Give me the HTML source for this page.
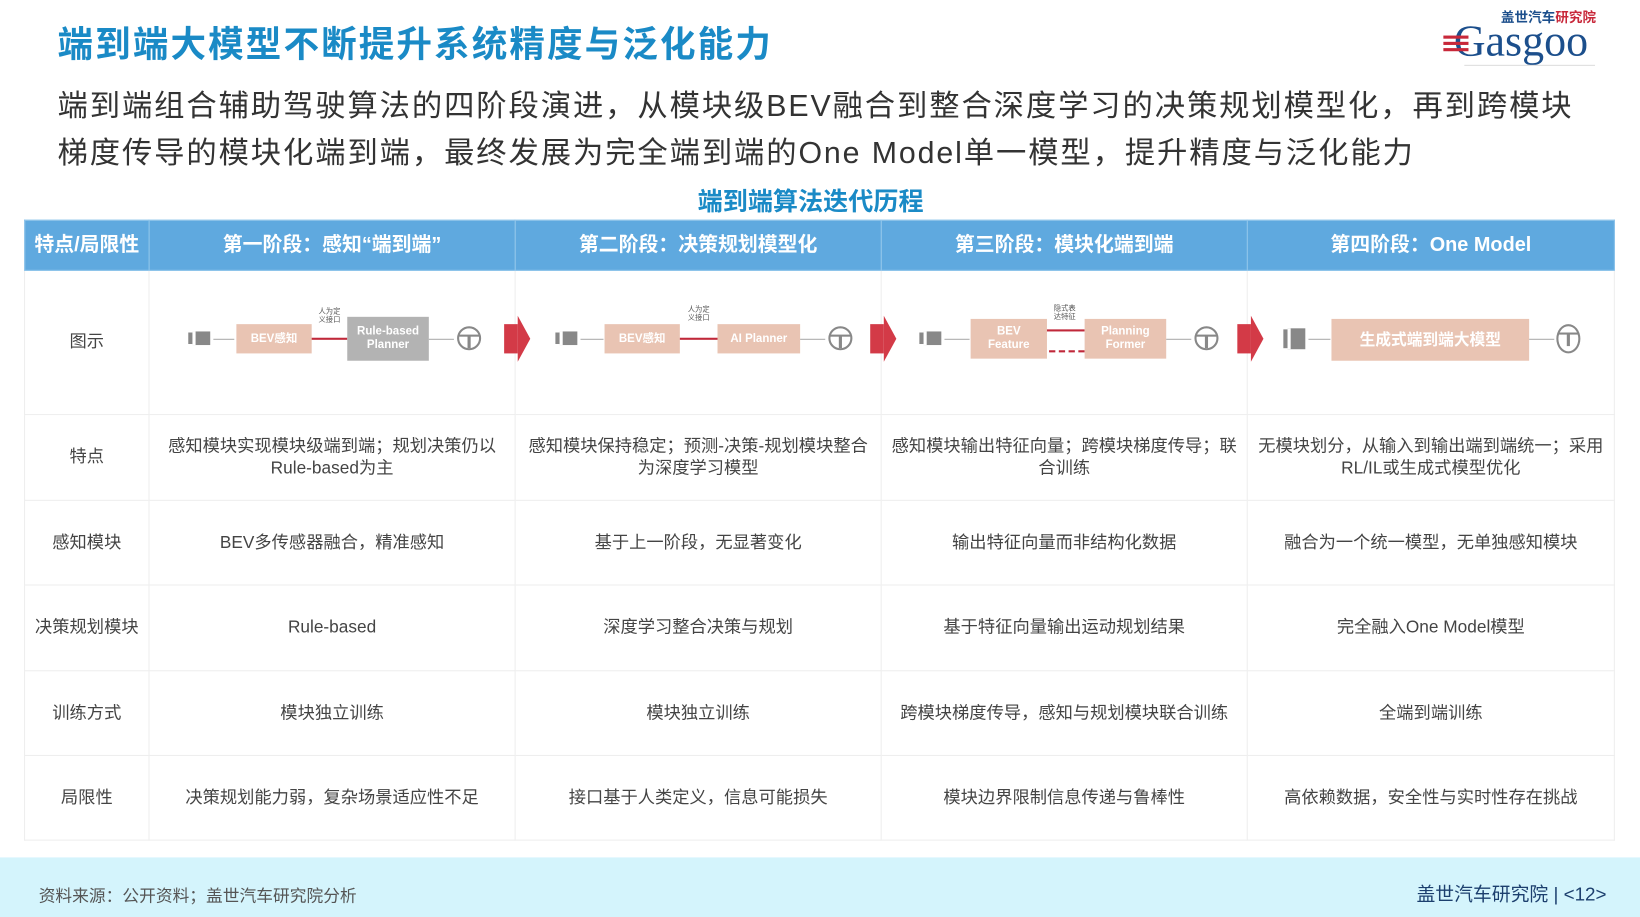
<!DOCTYPE html>
<html><head><meta charset="utf-8"><style>
html,body{margin:0;padding:0;width:1640px;height:917px;overflow:hidden;background:#fff}
#s{position:absolute;left:0;top:0;width:1568px;height:877px;transform:scale(1.04592,1.04561);transform-origin:0 0;font-family:"Liberation Sans","Noto Sans CJK SC",sans-serif}
.a{position:absolute}
table{position:absolute;left:23px;top:210px;width:1520px;border-collapse:collapse;table-layout:fixed}
td,th{border:1px solid #eeeeee;text-align:center;color:#444;font-size:16.5px;font-weight:normal;line-height:21px;padding:0 6px}
th{background:#5fa9df;color:#fff;font-weight:bold;font-size:19px;height:47px;border-color:#8cc3ea}
.bx{position:absolute;background:#e9c4b3;color:#fff;font-size:11px;display:flex;align-items:center;justify-content:center;text-align:center;line-height:13px;font-weight:bold}
.gy{background:#b3b3b3}
.cam{position:absolute;width:14px;height:13px;background:#888;border-left:3px solid #fff;box-shadow:-5px 0 0 -1px #888}
.ln{position:absolute;height:1px;background:#aaa}
.rl{position:absolute;height:2px;background:#c0283a}
.wh{position:absolute;width:19px;height:19px;border:2.5px solid #888;border-radius:50%}
.wh:before{content:"";position:absolute;left:0;top:6px;width:19px;height:2px;background:#888}
.wh:after{content:"";position:absolute;left:8px;top:7px;width:3px;height:12px;background:#888}
.ra{position:absolute;width:0;height:0;border-top:22px solid transparent;border-bottom:22px solid transparent;border-left:12px solid #d33a47}
.rb{position:absolute;width:13px;height:28px;background:#d33a47}
.tiny{position:absolute;font-size:7px;color:#555;line-height:8px;text-align:center}
</style></head><body><div id="s">
<div class="a" style="left:55px;top:15px;font-size:34px;font-weight:bold;color:#1a8ac6;letter-spacing:2px">端到端大模型不断提升系统精度与泛化能力</div>
<div class="a" style="left:1380px;top:4px;width:155px;height:62px">
 <div class="a" style="left:55px;top:2px;font-size:13px;font-weight:bold;color:#1c4f8c">盖世汽车<span style="color:#c8283a">研究院</span></div>
 <div class="a" style="left:10px;top:16px;font-family:'Liberation Serif',serif;font-size:42px;color:#1c4f8c;line-height:40px">Gasgoo</div>
 <div class="a" style="left:0;top:36px;width:24px;height:3px;background:#c8283a;box-shadow:0 6px 0 #c8283a,0 -6px 0 #c8283a"></div>
 <div class="a" style="left:20px;top:58px;width:125px;height:1px;background:#ddd"></div>
</div>
<div class="a" style="left:55px;top:80px;font-size:29px;letter-spacing:1.8px;color:#333;line-height:45px;width:1500px;white-space:nowrap">端到端组合辅助驾驶算法的四阶段演进，从模块级BEV融合到整合深度学习的决策规划模型化，再到跨模块<br>梯度传导的模块化端到端，最终发展为完全端到端的One Model单一模型，提升精度与泛化能力</div>
<div class="a" style="left:0;width:1550px;top:173px;text-align:center;font-size:24px;font-weight:bold;color:#1a8ac6">端到端算法迭代历程</div>
<table>
<colgroup><col style="width:119px"><col style="width:350px"><col style="width:350px"><col style="width:350px"><col style="width:351px"></colgroup>
<tr><th>特点/局限性</th><th>第一阶段：感知“端到端”</th><th>第二阶段：决策规划模型化</th><th>第三阶段：模块化端到端</th><th>第四阶段：One Model</th></tr>
<tr style="height:138px"><td>图示</td><td></td><td></td><td></td><td></td></tr>
<tr style="height:82px"><td>特点</td><td>感知模块实现模块级端到端；规划决策仍以Rule-based为主</td><td>感知模块保持稳定；预测-决策-规划模块整合为深度学习模型</td><td>感知模块输出特征向量；跨模块梯度传导；联合训练</td><td>无模块划分，从输入到输出端到端统一；采用RL/IL或生成式模型优化</td></tr>
<tr style="height:81px"><td>感知模块</td><td>BEV多传感器融合，精准感知</td><td>基于上一阶段，无显著变化</td><td>输出特征向量而非结构化数据</td><td>融合为一个统一模型，无单独感知模块</td></tr>
<tr style="height:82px"><td>决策规划模块</td><td>Rule-based</td><td>深度学习整合决策与规划</td><td>基于特征向量输出运动规划结果</td><td>完全融入One Model模型</td></tr>
<tr style="height:81px"><td>训练方式</td><td>模块独立训练</td><td>模块独立训练</td><td>跨模块梯度传导，感知与规划模块联合训练</td><td>全端到端训练</td></tr>
<tr style="height:81px"><td>局限性</td><td>决策规划能力弱，复杂场景适应性不足</td><td>接口基于人类定义，信息可能损失</td><td>模块边界限制信息传递与鲁棒性</td><td>高依赖数据，安全性与实时性存在挑战</td></tr>
</table>
<!-- stage 1 -->
<div class="cam" style="left:184px;top:317px"></div><div class="ln" style="left:204px;top:324px;width:20px"></div>
<div class="bx" style="left:226px;top:310px;width:72px;height:28px">BEV感知</div>
<div class="rl" style="left:298px;top:323px;width:34px"></div><div class="tiny" style="left:300px;top:295px;width:30px">人为定<br>义接口</div>
<div class="bx gy" style="left:332px;top:303px;width:78px;height:42px">Rule-based<br>Planner</div>
<div class="ln" style="left:410px;top:324px;width:24px"></div><div class="wh" style="left:437px;top:312px"></div>
<div class="rb" style="left:482px;top:310px"></div><div class="ra" style="left:495px;top:302px"></div>
<!-- stage 2 -->
<div class="cam" style="left:535px;top:317px"></div><div class="ln" style="left:555px;top:324px;width:22px"></div>
<div class="bx" style="left:578px;top:310px;width:72px;height:28px">BEV感知</div>
<div class="rl" style="left:650px;top:323px;width:36px"></div><div class="tiny" style="left:653px;top:293px;width:30px">人为定<br>义接口</div>
<div class="bx" style="left:686px;top:310px;width:79px;height:28px">AI Planner</div>
<div class="ln" style="left:765px;top:324px;width:24px"></div><div class="wh" style="left:792px;top:312px"></div>
<div class="rb" style="left:832px;top:310px"></div><div class="ra" style="left:845px;top:302px"></div>
<!-- stage 3 -->
<div class="cam" style="left:883px;top:317px"></div><div class="ln" style="left:903px;top:324px;width:24px"></div>
<div class="bx" style="left:928px;top:305px;width:73px;height:38px">BEV<br>Feature</div>
<div class="rl" style="left:1001px;top:315px;width:36px"></div>
<div class="a" style="left:1003px;top:335px;width:34px;border-top:2px dashed #c0283a"></div>
<div class="tiny" style="left:1003px;top:292px;width:30px">隐式表<br>达特征</div>
<div class="bx" style="left:1037px;top:305px;width:78px;height:38px">Planning<br>Former</div>
<div class="ln" style="left:1115px;top:324px;width:24px"></div><div class="wh" style="left:1142px;top:312px"></div>
<div class="rb" style="left:1183px;top:310px"></div><div class="ra" style="left:1196px;top:302px"></div>
<!-- stage 4 -->
<div class="cam" style="left:1231px;top:314px;height:20px"></div><div class="ln" style="left:1251px;top:324px;width:21px"></div>
<div class="bx" style="left:1273px;top:305px;width:189px;height:40px;font-size:15px">生成式端到端大模型</div>
<div class="ln" style="left:1462px;top:324px;width:24px"></div><div class="wh" style="left:1488px;top:310px;height:24px"></div>
<div class="a" style="left:0;top:820px;width:1568px;height:57px;background:#d4f4fc"></div>
<div class="a" style="left:37px;top:843px;font-size:16px;color:#555">资料来源：公开资料；盖世汽车研究院分析</div>
<div class="a" style="right:32px;top:841px;font-size:18px;color:#1c3f6e">盖世汽车研究院 | &lt;12&gt;</div>
</div></body></html>
